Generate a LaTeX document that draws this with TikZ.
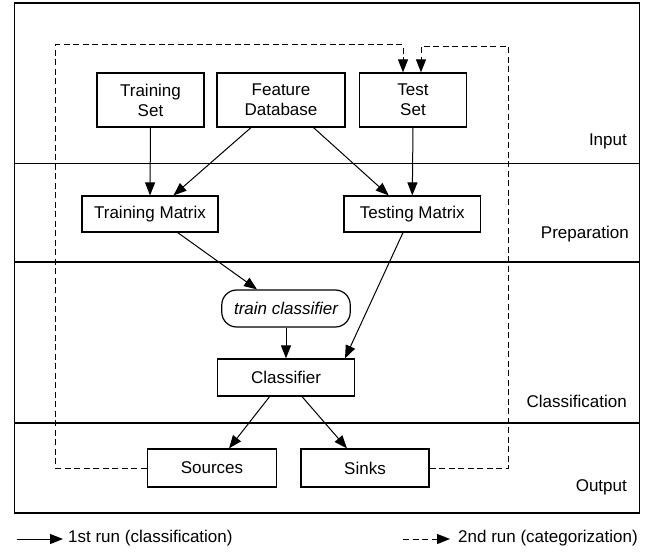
\documentclass[tikz,border=0pt]{standalone}
\usepackage{fontspec}
\setmainfont{Liberation Sans}
\usetikzlibrary{arrows.meta,calc}
\begin{document}
\begin{tikzpicture}[x=1pt,y=-1pt,
  every node/.style={font=\fontsize{17}{20}\selectfont},
  box/.style={draw,line width=1.2pt,align=center,inner sep=0pt},
  rbox/.style={box,rounded corners=15pt},
  lane/.style={anchor=base east,inner sep=0pt},
  arr/.style={line width=1pt,-{Triangle[length=13pt,width=10pt]}},
  darr/.style={line width=1pt,dash pattern=on 6pt off 3.5pt,-{Triangle[length=13pt,width=10pt]}},
  dline/.style={line width=1pt,dash pattern=on 6pt off 3.5pt}]
\useasboundingbox (0,0) rectangle (655,553);
% frame and lanes
\draw[line width=1.4pt] (14.6,3) rectangle (639.5,513);
\draw[line width=1.2pt] (14.6,163.5) -- (639.5,163.5);
\draw[line width=1.2pt] (14.6,262) -- (639.5,262);
\draw[line width=1.2pt] (14.6,423) -- (639.5,423);
\node[lane] (lin) at (627,145.7) {Input};
\node[lane] (lprep) at (629,239) {Preparation};
\node[lane] (lclass) at (627,407.5) {Classification};
\node[lane] (lout) at (627,491) {Output};
% nodes
\node[box,minimum width=107pt,minimum height=54pt] (trainset) at (150.5,100) {Training\\Set};
\node[box,minimum width=128pt,minimum height=54pt] (featdb) at (281,100) {Feature\\Database};
\node[box,minimum width=106.5pt,minimum height=54pt] (testset) at (413,100) {Test\\Set};
\node[box,minimum width=136pt,minimum height=36pt] (trainmat) at (150,214) {Training Matrix};
\node[box,minimum width=136.7pt,minimum height=36pt] (testmat) at (412.3,214) {Testing Matrix};
\node[rbox,minimum width=128.5pt,minimum height=37pt] (trainclf) at (286,308.5) {\itshape train classifier};
\node[box,minimum width=137.5pt,minimum height=37pt] (clf) at (286,377.5) {Classifier};
\node[box,minimum width=129pt,minimum height=38pt] (sources) at (212,468) {Sources};
\node[box,minimum width=128pt,minimum height=38pt] (sinks) at (365,468) {Sinks};
% solid arrows
\draw[arr] (trainset.south) -- (trainmat.north);
\draw[arr] ($(featdb.south)+(-30,0)$) -- ($(trainmat.north)+(23.5,0)$);
\draw[arr] ($(featdb.south)+(32.5,0)$) -- ($(testmat.north)+(-23.6,0)$);
\draw[arr] (testset.south) -- (testmat.north);
\draw[arr] ($(trainmat.south)+(27.7,0)$) -- ($(trainclf.north)+(-29,0)$);
\draw[arr] ($(testmat.south)+(-9.3,0)$) -- ($(clf.north)+(59,0)$);
\draw[arr] (trainclf.south) -- (clf.north);
\draw[arr] ($(clf.south)+(-16.4,0)$) -- ($(sources.north)+(17,0)$);
\draw[arr] ($(clf.south)+(16,0)$) -- ($(sinks.north)+(-18,0)$);
% dashed feedback
\draw[darr] (sources.west) -- (55.6,468) -- (55.6,45) -- (403,45) -- ($(testset.north)+(-10,0)$);
\draw[darr] (sinks.east) -- (508.7,468) -- (508.7,46.5) -- (421,46.5) -- ($(testset.north)+(8,0)$);
% legend
\coordinate (l1a) at (17,539);
\coordinate (l1b) at (63,539);
\draw[arr] (l1a) -- (l1b);
\node[anchor=west,inner sep=0pt] (l1t) at (68,538.5) {1st run (classification)};
\coordinate (l2a) at (403,539);
\coordinate (l2b) at (450,539);
\draw[darr] (l2a) -- (l2b);
\node[anchor=west,inner sep=0pt] (l2t) at (458,538.5) {2nd run (categorization)};
\end{tikzpicture}
\end{document}
